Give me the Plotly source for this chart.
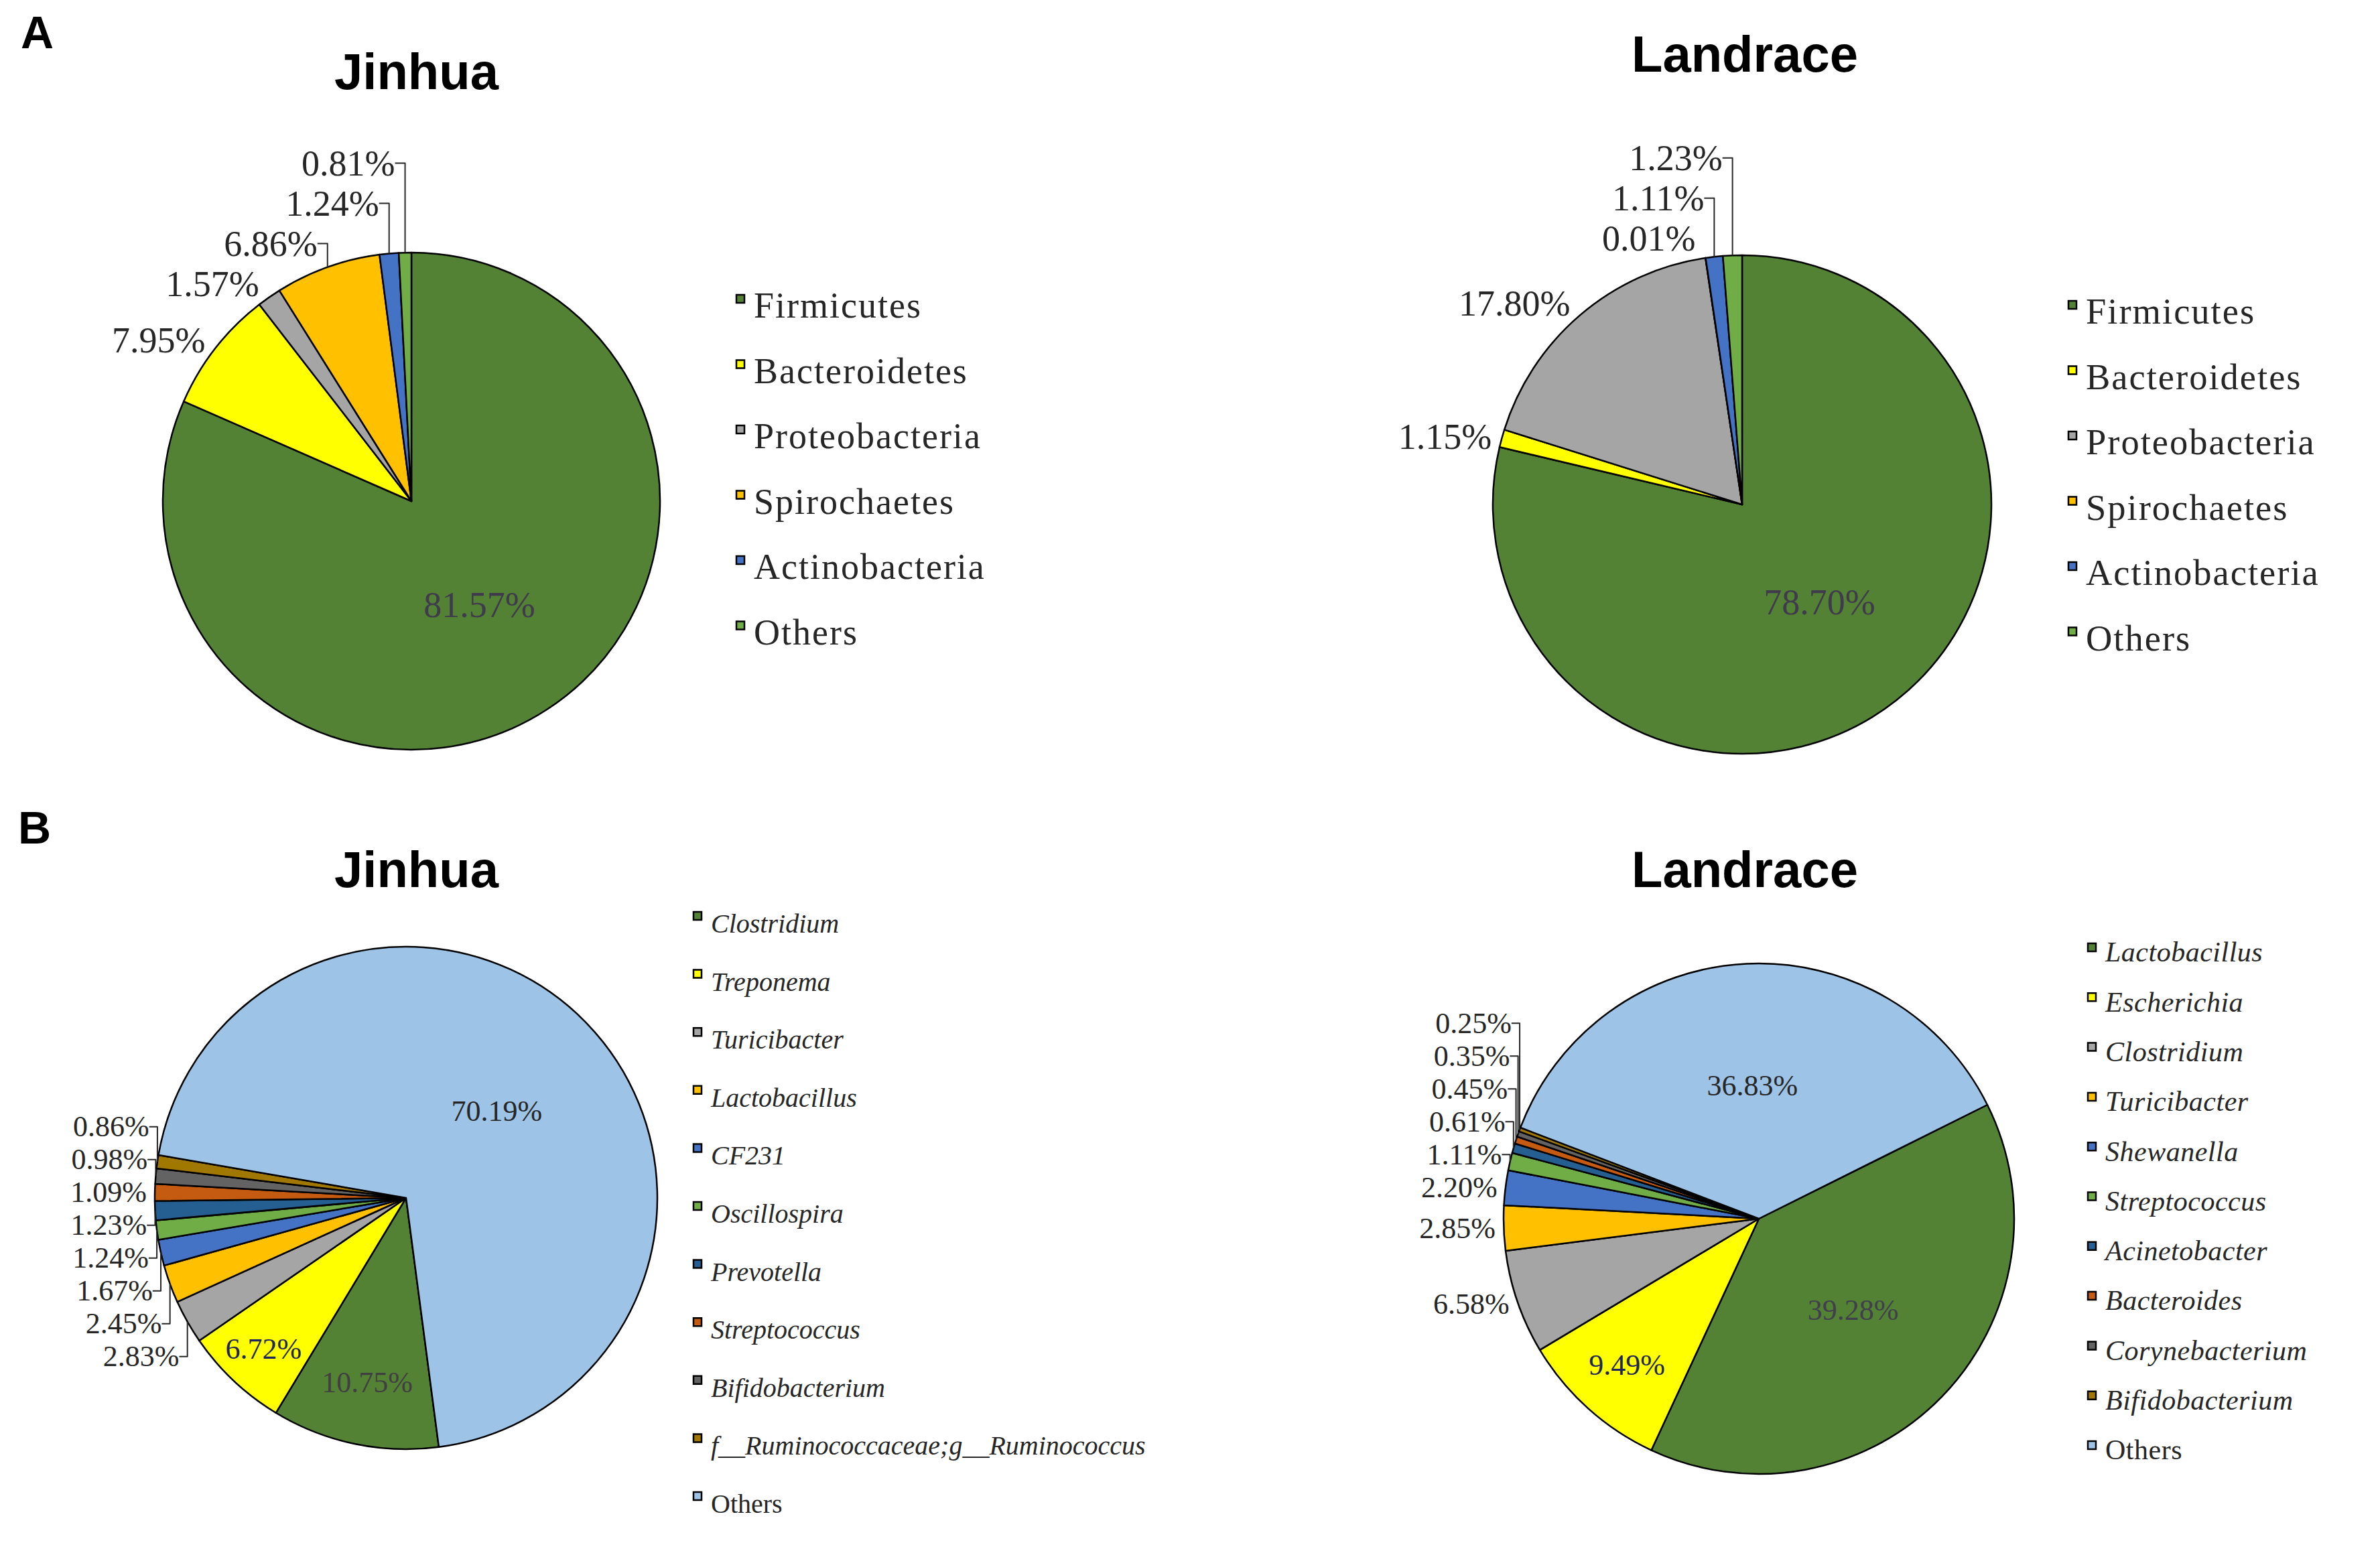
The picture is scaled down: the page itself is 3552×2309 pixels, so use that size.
import plotly.graph_objects as go

W, H = 3552, 2309

# ---------------- data ----------------
# Panel A (phylum level)
phyla = ["Firmicutes", "Bacteroidetes", "Proteobacteria", "Spirochaetes", "Actinobacteria", "Others"]
jinhua_phylum = [81.57, 7.95, 1.57, 6.86, 1.24, 0.81]
landrace_phylum = [78.70, 1.15, 17.80, 0.01, 1.11, 1.23]
phylum_colors = ["#548235", "#FFFF00", "#A5A5A5", "#FFC000", "#4472C4", "#70AD47"]

# Panel B (genus level)
jinhua_genera = ["Clostridium", "Treponema", "Turicibacter", "Lactobacillus", "CF231", "Oscillospira",
                 "Prevotella", "Streptococcus", "Bifidobacterium",
                 "f__Ruminococcaceae;g__Ruminococcus", "Others"]
jinhua_genus = [10.75, 6.72, 2.83, 2.45, 1.67, 1.24, 1.23, 1.09, 0.98, 0.86, 70.19]
landrace_genera = ["Lactobacillus", "Escherichia", "Clostridium", "Turicibacter", "Shewanella",
                   "Streptococcus", "Acinetobacter", "Bacteroides", "Corynebacterium",
                   "Bifidobacterium", "Others"]
landrace_genus = [39.28, 9.49, 6.58, 2.85, 2.20, 1.11, 0.61, 0.45, 0.35, 0.25, 36.83]
genus_colors = ["#548235", "#FFFF00", "#A5A5A5", "#FFC000", "#4472C4", "#70AD47",
                "#255E91", "#C55A11", "#636363", "#A07800", "#9DC3E6"]

SERIF = "Liberation Serif, Times New Roman, serif"
SANS = "Liberation Sans, Arial, sans-serif"


def domain(cx, cy, r):
    return dict(x=[(cx - r) / W, (cx + r) / W], y=[1 - (cy + r) / H, 1 - (cy - r) / H])


def legend_label(name, size, italic, spacing):
    txt = name if (not italic or name == "Others") else "<i>" + name + "</i>"
    return '<span style="font-size:%spx;letter-spacing:%spx">%s</span>' % (size, spacing, txt)


def make_pie(labels, values, colors, legend_id, dom, rotation, inside, inside_colors,
             label_size, legend_size, italic, spacing, outside_color="#262626"):
    n = len(values)
    pos = ["inside" if i in inside else "outside" for i in range(n)]
    in_cols = [inside_colors.get(i, "#262626") for i in range(n)]
    return go.Pie(
        labels=[legend_label(l, legend_size, italic, spacing) for l in labels],
        values=values,
        text=["%.2f%%" % v for v in values],
        textinfo="text",
        textposition=pos,
        insidetextorientation="horizontal",
        insidetextfont=dict(family=SERIF, size=label_size, color=in_cols),
        outsidetextfont=dict(family=SERIF, size=label_size, color=outside_color),
        marker=dict(colors=colors, line=dict(color="#000000", width=2.5)),
        sort=False,
        direction="clockwise",
        rotation=rotation,
        domain=dom,
        legend=legend_id,
        hoverinfo="skip",
    )


fig = go.Figure()

fig.add_trace(make_pie(phyla, jinhua_phylum, phylum_colors, "legend",
                       domain(606, 740, 371), 0, {0}, {0: "#3F3A4C"}, 54, 54, False, 2))
fig.add_trace(make_pie(phyla, landrace_phylum, phylum_colors, "legend2",
                       domain(2592, 745, 372), 0, {0}, {0: "#3F3A4C"}, 54, 54.5, False, 2))
fig.add_trace(make_pie(jinhua_genera, jinhua_genus, genus_colors, "legend3",
                       domain(598, 1780, 375), 172.5, {0, 1, 10},
                       {0: "#404040", 1: "#1F2659", 10: "#262626"}, 44, 40, True, 0))
fig.add_trace(make_pie(landrace_genera, landrace_genus, genus_colors, "legend4",
                       domain(2617, 1811, 381), 63.5, {0, 1, 10},
                       {0: "#403F4C", 1: "#1F2659", 10: "#262626"}, 44, 42, True, 0.5))


def legend_cfg(marker_x, first_y, spacing):
    fs = (spacing - 3) / 1.3
    top = first_y - spacing / 2 - 5 - 17
    return dict(x=(marker_x - 20) / W, y=1 - top / H, xanchor="left", yanchor="top",
                bgcolor="rgba(0,0,0,0)", borderwidth=0, traceorder="normal",
                font=dict(family=SERIF, size=fs, color="#262626"))


annotations = []
for txt, x, y in [("Jinhua", 614, 99), ("Landrace", 2596, 72),
                  ("Jinhua", 614, 1289), ("Landrace", 2596, 1289)]:
    annotations.append(dict(text="<b>%s</b>" % txt, x=x / W, y=1 - y / H, xref="paper", yref="paper",
                            xanchor="center", yanchor="middle", showarrow=False,
                            font=dict(family=SANS, size=76, color="#000000")))
for txt, x, y in [("A", 47, 40), ("B", 43, 1227)]:
    annotations.append(dict(text="<b>%s</b>" % txt, x=x / W, y=1 - y / H, xref="paper", yref="paper",
                            xanchor="center", yanchor="middle", showarrow=False,
                            font=dict(family=SANS, size=68, color="#000000")))

fig.update_layout(
    width=W, height=H,
    margin=dict(l=0, r=0, t=0, b=0),
    paper_bgcolor="#FFFFFF", plot_bgcolor="#FFFFFF",
    font=dict(family=SERIF, color="#262626"),
    showlegend=True,
    legend=legend_cfg(1097, 455, 97.5),
    legend2=legend_cfg(3085, 464, 97.5),
    legend3=legend_cfg(1033, 1376, 86.6),
    legend4=legend_cfg(3114, 1423, 74.3),
    annotations=annotations,
)

fig.write_html("out.html")
